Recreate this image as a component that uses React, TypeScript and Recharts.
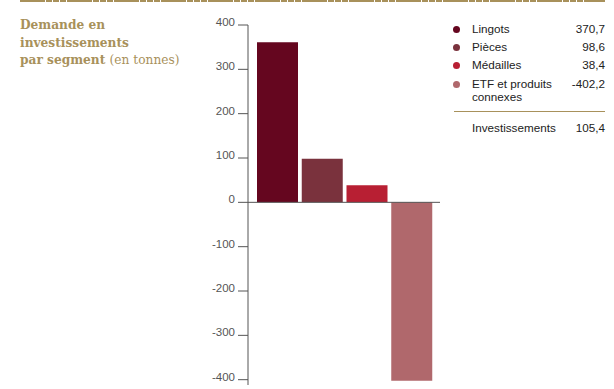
import { Bar, BarChart, Cell, ReferenceLine, XAxis, YAxis } from "recharts";

const categories = ["Lingots", "Pièces", "Médailles", "ETF et produits connexes"];
const barValues = [361, 98.6, 38.4, -402.2];
const legendValues = ["370,7", "98,6", "38,4", "-402,2"];
const barColors = ["#65061f", "#7a323d", "#b81f33", "#b0686c"];
const yTicks = [-400, -300, -200, -100, 0, 100, 200, 300, 400];
const totalLabel = "Investissements";
const totalValue = "105,4";

const data = categories.map((name, i) => ({ name, value: barValues[i] }));

const gold = "#a8915b";
const axisGrey = "#555555";

function YTick(props: any) {
  const { x, y, payload } = props;
  return (
    <text
      x={x}
      y={y}
      dy={1}
      textAnchor="end"
      fill={axisGrey}
      fontSize={11.5}
      fontFamily="'Liberation Sans', Arial, sans-serif"
    >
      {payload.value}
    </text>
  );
}

const legendRows = [29, 47, 65, 84];

export default function App() {
  return (
    <div
      style={{
        position: "absolute",
        left: 0,
        top: 0,
        width: 614,
        height: 389,
        background: "#fff",
        overflow: "hidden"
      }}
    >
      <svg width={614} height={4} style={{ position: "absolute", left: 0, top: 0 }}>
        <line
          x1={20}
          y1={1}
          x2={605}
          y2={1}
          stroke={gold}
          strokeWidth={2}
          strokeDasharray="25 1 6 1 6 1 6 1"
        />
      </svg>

      <div
        style={{
          position: "absolute",
          left: 20,
          top: 17,
          color: gold,
          fontFamily: "'DejaVu Serif', Georgia, serif",
          fontSize: 12.2,
          lineHeight: "17.7px",
          fontWeight: 700
        }}
      >
        Demande en
        <br />
        investissements
        <br />
        par segment <span style={{ fontWeight: 400 }}>(en tonnes)</span>
      </div>

      <div style={{ position: "absolute", left: 0, top: 0 }}>
        <BarChart
          width={614}
          height={389}
          data={data}
          margin={{ top: 25, right: 174, bottom: 4, left: 188 }}
        >
          <XAxis dataKey="name" hide padding={{ left: 7, right: 6 }} />
          <YAxis
            type="number"
            width={60}
            domain={[-412, 400]}
            ticks={yTicks}
            allowDataOverflow
            axisLine={{ stroke: axisGrey }}
            tickLine={{ stroke: axisGrey }}
            tickSize={10}
            tickMargin={3}
            tick={<YTick />}
            interval={0}
          />
          <Bar dataKey="value" barSize={41} isAnimationActive={false}>
            {data.map((d, i) => (
              <Cell key={d.name} fill={barColors[i]} />
            ))}
          </Bar>
          <ReferenceLine y={0} stroke={axisGrey} />
        </BarChart>
      </div>

      <div
        style={{
          position: "absolute",
          left: 0,
          top: 0,
          fontFamily: "'Liberation Sans', Arial, sans-serif",
          fontSize: 11.7,
          color: "#222"
        }}
      >
        {categories.map((name, i) => (
          <div key={name}>
            <div
              style={{
                position: "absolute",
                left: 453,
                top: legendRows[i] - 3.5,
                width: 7,
                height: 7,
                borderRadius: "50%",
                background: barColors[i]
              }}
            />
            <div
              style={{
                position: "absolute",
                left: 472,
                top: legendRows[i] - 7,
                width: 80,
                lineHeight: "13px"
              }}
            >
              {name}
            </div>
            <div
              style={{
                position: "absolute",
                left: 545,
                width: 60,
                top: legendRows[i] - 7,
                textAlign: "right",
                lineHeight: "13px"
              }}
            >
              {legendValues[i]}
            </div>
          </div>
        ))}
        <div
          style={{
            position: "absolute",
            left: 454,
            top: 111,
            width: 151,
            height: 1,
            background: gold
          }}
        />
        <div style={{ position: "absolute", left: 472, top: 121, lineHeight: "14px" }}>
          {totalLabel}
        </div>
        <div
          style={{
            position: "absolute",
            left: 545,
            width: 60,
            top: 121,
            textAlign: "right",
            lineHeight: "14px"
          }}
        >
          {totalValue}
        </div>
      </div>
    </div>
  );
}
